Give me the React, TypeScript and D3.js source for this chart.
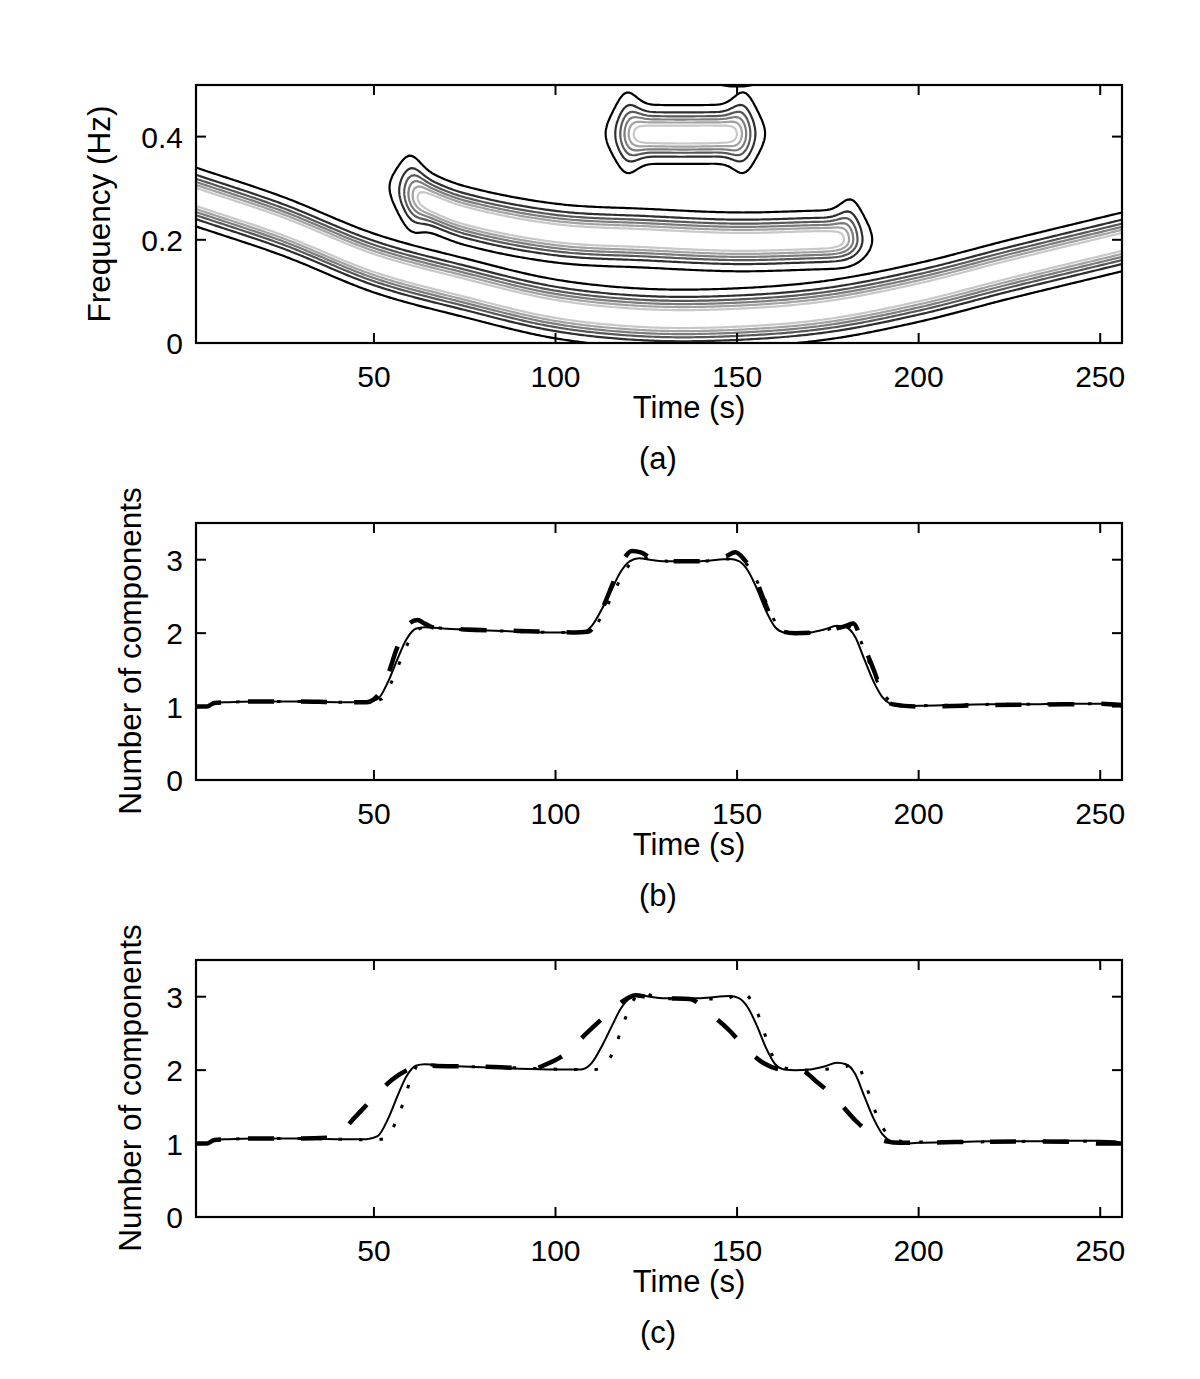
import React, { useMemo } from "react";
import * as d3 from "d3";

const W = 1200;
const H = 1379;

// ---- axis ticks ----
const timeTicks = [50, 100, 150, 200, 250];
const freqTicks = [0, 0.2, 0.4];
const countTicks = [0, 1, 2, 3];

// ---- panel (a): ridge curves of the components ----
const comp1Time = [1, 25, 50, 75, 100, 125, 150, 175, 200, 225, 256];
const comp1Freq = [0.283, 0.226, 0.155, 0.107, 0.066, 0.048, 0.049, 0.064, 0.098, 0.143, 0.196];

const comp2Time = [54, 60, 75, 100, 125, 150, 175, 186];
const comp2Freq = [0.302, 0.288, 0.247, 0.213, 0.203, 0.196, 0.2, 0.2];
const comp2Span = [59.5, 182];
// flare at [start-up, start-down, end-up, end-down]
const comp2Flare = [0.5, 0.4, 0.55, 0.0];

const comp3Time = [110, 135, 160];
const comp3Freq = [0.406, 0.404, 0.406];
const comp3Span = [119, 152.5];
const comp3Flare = [0.6, 0.5, 0.6, 0.5];

const comp4Time = [130, 170];
const comp4Freq = [0.553, 0.553];
const comp4Span = [144, 156];
const comp4Flare = [0, 0, 0, 0];

const contourLevels = [0.07, 0.22, 0.36, 0.5, 0.64, 0.78];
const contourColors = ["#000000", "#2e2e2e", "#585858", "#7c7c7c", "#a2a2a2", "#c8c8c8"];

// ---- panels (b) and (c): number of components ----
const solidTime = [1, 4, 6, 10, 20, 30, 40, 48, 51, 54, 56.5, 59, 61.5, 64, 70, 80, 90, 100, 107, 110, 113, 115.5, 118, 120.5, 123, 126, 130, 140, 148, 150.5, 153, 155.5, 158, 160.5, 163, 166, 170, 174, 177.5, 180, 182.5, 185, 187.5, 190, 192.5, 195, 200, 210, 220, 230, 240, 250, 254, 256];
const solidCount = [1.0, 1.0, 1.05, 1.06, 1.07, 1.07, 1.06, 1.06, 1.1, 1.35, 1.65, 1.92, 2.06, 2.08, 2.06, 2.04, 2.02, 2.01, 2.01, 2.1, 2.35, 2.6, 2.84, 2.98, 3.02, 3.0, 2.98, 2.98, 3.01, 2.98, 2.85, 2.6, 2.3, 2.08, 2.01, 2.0, 2.01, 2.05, 2.1, 2.08, 1.95, 1.65, 1.35, 1.13, 1.03, 1.0, 1.01, 1.02, 1.03, 1.03, 1.04, 1.04, 1.03, 1.0];

const dashedBTime = [1, 4, 6, 10, 20, 30, 40, 48, 50, 52, 54, 56, 58, 60, 62, 64, 67, 75, 90, 105, 109, 111, 113.5, 116, 118.5, 121, 123.5, 126, 130, 140, 147, 149.5, 152, 154.5, 157, 159.5, 162, 166, 172, 177, 180, 182, 184, 186, 188, 190, 193, 200, 220, 240, 250, 256];
const dashedBCount = [1.0, 1.0, 1.05, 1.06, 1.07, 1.07, 1.06, 1.06, 1.1, 1.22, 1.45, 1.75, 2.0, 2.14, 2.18, 2.13, 2.07, 2.05, 2.03, 2.01, 2.02, 2.12, 2.4, 2.7, 2.98, 3.12, 3.1, 3.03, 2.98, 2.98, 3.05, 3.1, 3.0, 2.82, 2.5, 2.2, 2.03, 2.0, 2.01, 2.06, 2.1, 2.13, 1.95, 1.7, 1.45, 1.17, 1.03, 1.0, 1.02, 1.03, 1.04, 1.02];

const dottedBTime = [1, 4, 6, 10, 20, 30, 40, 48, 52, 55, 57.5, 60, 62.5, 65, 70, 80, 90, 100, 108, 111, 114, 116.5, 119, 121.5, 124, 127, 131, 140, 148, 151.5, 154, 156.5, 159, 161.5, 164, 167, 171, 175, 178.5, 181, 183.5, 186, 188.5, 191, 193.5, 196, 200, 210, 220, 230, 240, 250, 254, 256];
const dottedBCount = [1.0, 1.0, 1.05, 1.06, 1.07, 1.07, 1.06, 1.06, 1.1, 1.35, 1.65, 1.92, 2.06, 2.08, 2.06, 2.04, 2.02, 2.01, 2.01, 2.1, 2.35, 2.6, 2.84, 2.98, 3.02, 3.0, 2.98, 2.98, 3.01, 2.98, 2.85, 2.6, 2.3, 2.08, 2.01, 2.0, 2.01, 2.05, 2.1, 2.08, 1.95, 1.65, 1.35, 1.13, 1.03, 1.0, 1.01, 1.02, 1.03, 1.03, 1.04, 1.04, 1.03, 1.0];

const dashedCTime = [1, 4, 6, 10, 20, 30, 37, 40, 45, 50, 55, 60, 63, 66, 75, 85, 94, 97, 103, 108.5, 114, 119.5, 122, 126, 130, 137, 142, 147.5, 153, 157.5, 161, 165, 168, 171.5, 177, 182.5, 188, 191, 195, 210, 230, 245, 250, 256];
const dashedCCount = [1.0, 1.0, 1.05, 1.06, 1.07, 1.07, 1.08, 1.12, 1.37, 1.63, 1.87, 2.02, 2.07, 2.06, 2.05, 2.04, 2.02, 2.07, 2.23, 2.5, 2.75, 2.97, 3.02, 2.99, 2.98, 2.97, 2.79, 2.56, 2.27, 2.09, 2.02, 2.0, 1.99, 1.86, 1.62, 1.32, 1.09, 1.03, 1.01, 1.02, 1.03, 1.02, 1.0, 1.0];

const dottedCTime = [1, 4, 6, 10, 20, 30, 40, 50, 53.3, 56.3, 58.3, 60, 63.2, 66, 75, 90, 105, 111, 113.6, 116.4, 118.3, 120.5, 123.8, 128, 135, 142, 146, 151.4, 155.2, 157.2, 159, 161.8, 164, 170, 176, 180, 183, 185.3, 187.2, 189.4, 193, 197, 210, 230, 250, 256];
const dottedCCount = [1.0, 1.0, 1.05, 1.06, 1.07, 1.07, 1.06, 1.05, 1.07, 1.33, 1.59, 1.86, 2.12, 2.07, 2.05, 2.03, 2.01, 2.01, 2.07, 2.31, 2.58, 2.86, 3.07, 2.98, 2.97, 2.97, 2.96, 3.05, 2.83, 2.56, 2.28, 2.07, 2.02, 2.0, 2.02, 2.05, 2.09, 1.82, 1.55, 1.28, 1.07, 1.02, 1.02, 1.03, 1.03, 1.0];

const FONT = "'Liberation Sans', Arial, Helvetica, sans-serif";
const X0 = 196;
const X1 = 1122;

const panels = [
  { top: 85, bottom: 343 },
  { top: 523, bottom: 780 },
  { top: 960, bottom: 1217 },
];

// smooth cubic Hermite through the read points
function smoothInterp(xs: number[], ys: number[]) {
  const n = xs.length;
  const m = ys.map((_, i) => {
    if (n < 2) return 0;
    if (i === 0) return (ys[1] - ys[0]) / (xs[1] - xs[0]);
    if (i === n - 1) return (ys[n - 1] - ys[n - 2]) / (xs[n - 1] - xs[n - 2]);
    return (ys[i + 1] - ys[i - 1]) / (xs[i + 1] - xs[i - 1]);
  });
  return (x: number) => {
    if (x <= xs[0]) return ys[0] + m[0] * (x - xs[0]);
    if (x >= xs[n - 1]) return ys[n - 1] + m[n - 1] * (x - xs[n - 1]);
    const i = Math.min(n - 2, d3.bisectRight(xs, x) - 1);
    const h = xs[i + 1] - xs[i];
    const s = (x - xs[i]) / h;
    const s2 = s * s, s3 = s2 * s;
    return (2 * s3 - 3 * s2 + 1) * ys[i] + (s3 - 2 * s2 + s) * h * m[i] + (-2 * s3 + 3 * s2) * ys[i + 1] + (s3 - s2) * h * m[i + 1];
  };
}

const sigmoid = (u: number) => 1 / (1 + Math.exp(-u));

function Frame({ top, bottom, y, yTicks, yFmt }: any) {
  const x = d3.scaleLinear().domain([1, 256]).range([X0, X1]);
  const tl = 10;
  return (
    <g>
      <rect x={X0} y={top} width={X1 - X0} height={bottom - top} fill="none" stroke="#000" strokeWidth={2.2} />
      {timeTicks.map((t) => (
        <g key={"xt" + t}>
          <line x1={x(t)} x2={x(t)} y1={bottom} y2={bottom - tl} stroke="#000" strokeWidth={2} />
          <line x1={x(t)} x2={x(t)} y1={top} y2={top + tl} stroke="#000" strokeWidth={2} />
          <text x={x(t)} y={bottom + 44} textAnchor="middle" fontSize={30} fontFamily={FONT}>{t}</text>
        </g>
      ))}
      {yTicks.map((v: number) => (
        <g key={"yt" + v}>
          <line x1={X0} x2={X0 + tl} y1={y(v)} y2={y(v)} stroke="#000" strokeWidth={2} />
          <line x1={X1} x2={X1 - tl} y1={y(v)} y2={y(v)} stroke="#000" strokeWidth={2} />
          <text x={183} y={y(v) + 11} textAnchor="end" fontSize={30} fontFamily={FONT}>{yFmt(v)}</text>
        </g>
      ))}
      <text x={689} y={bottom + 75} textAnchor="middle" fontSize={31} fontFamily={FONT}>Time (s)</text>
    </g>
  );
}

export default function App() {
  const x = d3.scaleLinear().domain([1, 256]).range([X0, X1]);
  const yA = d3.scaleLinear().domain([0, 0.5]).range([panels[0].bottom, panels[0].top]);
  const yB = d3.scaleLinear().domain([0, 3.5]).range([panels[1].bottom, panels[1].top]);
  const yC = d3.scaleLinear().domain([0, 3.5]).range([panels[2].bottom, panels[2].top]);

  const contourPaths = useMemo(() => {
    const gT0 = -14, gDt = 0.8, nx = 356;
    const gF0 = -0.1, gDf = 0.0025, ny = 290;
    const sigma0 = 0.0247;
    const r1 = smoothInterp(comp1Time, comp1Freq);
    const bounded = [
      { r: smoothInterp(comp2Time, comp2Freq), span: comp2Span, flare: comp2Flare },
      { r: smoothInterp(comp3Time, comp3Freq), span: comp3Span, flare: comp3Flare },
      { r: smoothInterp(comp4Time, comp4Freq), span: comp4Span, flare: comp4Flare },
    ];
    const values = new Float64Array(nx * ny);
    const tau = 2;
    for (let i = 0; i < nx; i++) {
      const t = gT0 + i * gDt;
      const c1 = r1(t);
      const comps = bounded.map(({ r, span, flare }) => {
        const env = sigmoid((t - span[0]) / tau) * sigmoid((span[1] - t) / tau);
        const gs = Math.exp(-(((t - span[0]) / 4) ** 2));
        const ge = Math.exp(-(((t - span[1]) / 4) ** 2));
        return {
          c: r(t),
          env,
          sUp: sigma0 * (1 + flare[0] * gs + flare[2] * ge),
          sDown: sigma0 * (1 + flare[1] * gs + flare[3] * ge),
        };
      });
      for (let j = 0; j < ny; j++) {
        const f = gF0 + j * gDf;
        let z = Math.exp(-((f - c1) ** 2) / (2 * sigma0 * sigma0));
        for (const cp of comps) {
          if (cp.env < 1e-4) continue;
          const s = f > cp.c ? cp.sUp : cp.sDown;
          z = Math.max(z, cp.env * Math.exp(-((f - cp.c) ** 2) / (2 * s * s)));
        }
        values[j * nx + i] = z;
      }
    }
    const contours = d3.contours().size([nx, ny]).thresholds(contourLevels)(Array.from(values));
    const proj = d3.geoTransform({
      point(px: number, py: number) {
        (this as any).stream.point(x(gT0 + (px - 0.5) * gDt), yA(gF0 + (py - 0.5) * gDf));
      },
    });
    const path = d3.geoPath(proj);
    return contours.map((c, k) => ({ d: path(c as any) || "", color: contourColors[k] }));
  }, []);

  const mk = (ys: any) => d3.line<[number, number]>().x((d) => x(d[0])).y((d) => ys(d[1])).curve(d3.curveMonotoneX);
  const zipT = (ts: number[], vs: number[]) => ts.map((t, i) => [t, vs[i]] as [number, number]);

  const lineB = mk(yB);
  const lineC = mk(yC);

  const dashStyle = { fill: "none", stroke: "#000", strokeWidth: 4.5, strokeDasharray: "26,27" };
  const dotStyle = { fill: "none", stroke: "#000", strokeWidth: 3, strokeDasharray: "3.5,17" };
  const solidStyle = { fill: "none", stroke: "#000", strokeWidth: 2 };

  return (
    <svg width={W} height={H} style={{ position: "absolute", left: 0, top: 0, background: "#fff" }} xmlns="http://www.w3.org/2000/svg">
      <rect x={0} y={0} width={W} height={H} fill="#fff" />
      <defs>
        <clipPath id="clipA">
          <rect x={X0} y={panels[0].top} width={X1 - X0} height={panels[0].bottom - panels[0].top} />
        </clipPath>
      </defs>

      {/* panel (a) */}
      <g clipPath="url(#clipA)">
        {contourPaths.map((p, k) => (
          <path key={k} d={p.d} fill="none" stroke={p.color} strokeWidth={2.2} strokeLinejoin="round" />
        ))}
      </g>
      <Frame top={panels[0].top} bottom={panels[0].bottom} y={yA} yTicks={freqTicks} yFmt={(v: number) => (v === 0 ? "0" : v.toFixed(1))} />
      <text transform={`translate(110,214) rotate(-90)`} textAnchor="middle" fontSize={31.5} fontFamily={FONT}>Frequency (Hz)</text>
      <text x={658} y={panels[0].bottom + 126} textAnchor="middle" fontSize={31} fontFamily={FONT}>(a)</text>

      {/* panel (b) */}
      <path d={lineB(zipT(dashedBTime, dashedBCount)) || ""} style={dashStyle as any} />
      <path d={lineB(zipT(dottedBTime, dottedBCount)) || ""} style={dotStyle as any} />
      <path d={lineB(zipT(solidTime, solidCount)) || ""} style={solidStyle as any} />
      <Frame top={panels[1].top} bottom={panels[1].bottom} y={yB} yTicks={countTicks} yFmt={(v: number) => String(v)} />
      <text transform={`translate(141,651) rotate(-90)`} textAnchor="middle" fontSize={31.5} fontFamily={FONT}>Number of components</text>
      <text x={658} y={panels[1].bottom + 126} textAnchor="middle" fontSize={31} fontFamily={FONT}>(b)</text>

      {/* panel (c) */}
      <path d={lineC(zipT(dashedCTime, dashedCCount)) || ""} style={dashStyle as any} />
      <path d={lineC(zipT(dottedCTime, dottedCCount)) || ""} style={dotStyle as any} />
      <path d={lineC(zipT(solidTime, solidCount)) || ""} style={solidStyle as any} />
      <Frame top={panels[2].top} bottom={panels[2].bottom} y={yC} yTicks={countTicks} yFmt={(v: number) => String(v)} />
      <text transform={`translate(141,1088) rotate(-90)`} textAnchor="middle" fontSize={31.5} fontFamily={FONT}>Number of components</text>
      <text x={658} y={panels[2].bottom + 126} textAnchor="middle" fontSize={31} fontFamily={FONT}>(c)</text>
    </svg>
  );
}
